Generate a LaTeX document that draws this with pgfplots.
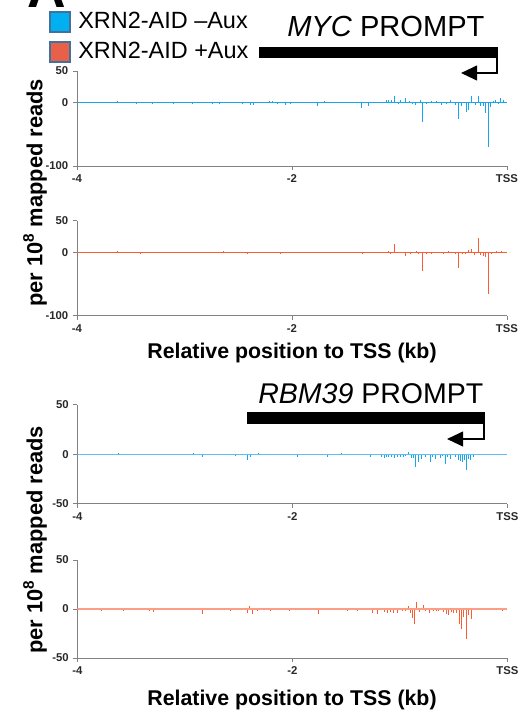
\documentclass[border=0pt]{standalone}
\usepackage{pgfplots}
\pgfplotsset{compat=1.18}
\usepackage{fontspec}
\setmainfont{Liberation Sans}
\usetikzlibrary{arrows.meta}

\definecolor{lb}{RGB}{25,165,235}
\definecolor{rd}{RGB}{250,92,52}
\definecolor{legblue}{RGB}{0,176,240}
\definecolor{legred}{RGB}{232,96,72}
\definecolor{legborder}{RGB}{65,113,156}
\definecolor{axgray}{RGB}{130,130,130}
\definecolor{ticktext}{RGB}{40,40,40}

\pgfplotsset{
  trace/.style={
    scale only axis, width=322.5pt,
    xmin=-4, xmax=0,
    axis lines=left,
    axis line style={draw=axgray, line width=0.75pt, -},
    tick align=outside,
    major tick length=3pt,
    tick style={draw=axgray, line width=0.75pt},
    xtick={-4,-2,0}, xticklabels={-4,-2,TSS},
    /pgf/number format/assume math mode=true,
    tick label style={font=\bfseries\fontsize{8.5}{10}\selectfont, text=ticktext},
    clip=true,
  },
  spk/.style={ycomb, line width=0.6pt, no markers},
}

\pgfplotstableread{
x y
-3.628 2
-3.451 -1
-3.302 -2
-3.107 -1
-2.930 -1
-2.744 -1
-2.679 -2
-2.465 -2
-2.391 -4
-2.363 -3
-2.214 2
-2.186 3
-2.140 -2
-2.065 -4
-2.019 -2
-1.767 -5
-1.702 3
-1.358 -8.5
-1.293 -6
-1.126 4
-1.107 4
-1.079 5
-1.051 10
-1.014 -2
-0.995 4
-0.949 7
-0.912 2
-0.884 -2
-0.856 -3
-0.809 5
-0.791 -30
-0.753 -2
-0.707 3
-0.660 2
-0.614 -3
-0.567 -2
-0.530 4
-0.484 -3
-0.456 -26
-0.428 -5
-0.381 -14
-0.363 -11
-0.335 10
-0.298 -4
-0.270 11
-0.251 -5
-0.223 -6
-0.205 -16
-0.177 -70
-0.158 -7
-0.130 3
-0.112 4
-0.084 -2
-0.065 8
-0.037 4
}\mycminus

\pgfplotstableread{
x y
-3.628 2
-3.414 -2
-3.293 -1
-3.116 -1
-2.763 -1
-2.642 2
-2.419 -2
-2.112 -2
-1.907 1
-1.628 1
-1.488 -1
-1.349 -2
-1.107 3
-1.088 -2
-1.051 14
-0.986 1
-0.949 -5
-0.902 -2
-0.847 3
-0.828 -3
-0.791 -29
-0.753 -2
-0.707 -2
-0.642 -1
-0.595 -2
-0.549 2
-0.484 -3
-0.456 -24
-0.419 -3
-0.391 -2
-0.363 4
-0.335 5
-0.307 -4
-0.270 23
-0.251 -4
-0.223 -5
-0.205 -8
-0.177 -65
-0.149 -3
-0.102 2
-0.056 3
-0.019 1
}\mycplus

\pgfplotstableread{
x y
-3.619 1
-3.302 -1
-2.921 1
-2.837 -3
-2.735 -1
-2.530 -2
-2.419 -6
-2.391 -3
-2.316 1
-2.205 -1
-2.065 -1
-1.953 -3
-1.674 -3
-1.544 1
-1.526 -1
-1.442 -1
-1.367 -1
-1.274 -3
-1.172 -3
-1.144 -4
-1.126 -3
-1.107 -3
-1.079 -3
-1.051 -4
-1.023 -3
-0.995 -3
-0.967 -3
-0.949 -2
-0.921 2
-0.893 -4
-0.874 -4
-0.856 -13
-0.828 -8
-0.800 -5
-0.763 -3
-0.716 -8
-0.698 -3
-0.670 -5
-0.623 -4
-0.605 -2
-0.577 -10
-0.558 -3
-0.530 -5
-0.484 -3
-0.456 -6
-0.437 -7
-0.419 -8
-0.400 -6
-0.381 -16
-0.363 -5
-0.344 -6
-0.316 -3
}\rbmminus

\pgfplotstableread{
x y
-3.777 -2
-3.572 -2
-3.330 -2
-3.293 -3
-2.837 -5
-2.577 -2
-2.419 -4
-2.400 3
-2.372 -5
-2.326 -2
-2.205 -2
-2.028 -2
-1.758 -5
-1.488 -2
-1.395 -2
-1.256 -4
-1.209 -5
-1.144 -3
-1.116 -4
-1.088 -3
-1.060 -4
-1.023 -4
-0.977 -2
-0.949 -2
-0.921 3
-0.902 -4
-0.884 -9
-0.865 -15
-0.847 7
-0.819 -3
-0.781 4
-0.763 -2
-0.726 -4
-0.688 -2
-0.660 -2
-0.642 -2
-0.595 -3
-0.567 -5
-0.549 -6
-0.521 -3
-0.502 -4
-0.474 -4
-0.447 -15
-0.428 -20
-0.409 -8
-0.381 -31
-0.363 -6
-0.335 -10
-0.047 -2
}\rbmplus

\begin{document}
\begin{tikzpicture}

% Panel 1: MYC -Aux
\begin{axis}[trace, at={(57.75pt,-124.5pt)}, anchor=south west,
  height=71.25pt, ymin=-100, ymax=50,
  ytick={-100,0,50}, yticklabels={-100,0,50}]
  \addplot[spk, lb] table {\mycminus};
  \addplot[lb, line width=0.9pt] coordinates {(-4,0) (0,0)};
\end{axis}

% Panel 2: MYC +Aux
\begin{axis}[trace, at={(57.75pt,-236.8pt)}, anchor=south west,
  height=71.25pt, ymin=-100, ymax=50,
  ytick={-100,0,50}, yticklabels={-100,0,50}]
  \addplot[spk, rd] table {\mycplus};
  \addplot[rd, line width=0.9pt] coordinates {(-4,0) (0,0)};
\end{axis}

% Panel 3: RBM39 -Aux
\begin{axis}[trace, at={(58.1pt,-377.8pt)}, anchor=south west,
  height=74.25pt, ymin=-50, ymax=50,
  ytick={-50,0,50}, yticklabels={-50,0,50}]
  \addplot[spk, lb] table {\rbmminus};
  \addplot[lb!70, line width=0.9pt] coordinates {(-4,0) (0,0)};
\end{axis}

% Panel 4: RBM39 +Aux
\begin{axis}[trace, at={(58.1pt,-493.5pt)}, anchor=south west,
  height=73.5pt, ymin=-50, ymax=50,
  ytick={-50,0,50}, yticklabels={-50,0,50}]
  \addplot[spk, rd] table {\rbmplus};
  \addplot[rd!60, line width=1pt] coordinates {(-4,0) (0,0)};
\end{axis}

\begin{scope}[x=0.75pt, y=-0.75pt]
  % panel letter (cut at top, as in the reference)
  \node[anchor=base west, font=\bfseries\fontsize{40}{40}\selectfont, inner sep=0pt] at (27,7) {A};
  % legend
  \draw[draw=legborder, line width=1.1pt, fill=legblue] (50,12) rectangle (70,32);
  \draw[draw=legborder, line width=1.1pt, fill=legred] (50,42) rectangle (70,62);
  \node[anchor=base west, font=\fontsize{17.6}{20}\selectfont, inner sep=0pt] at (78,28) {XRN2-AID –Aux};
  \node[anchor=base west, font=\fontsize{17.6}{20}\selectfont, inner sep=0pt] at (78,58) {XRN2-AID +Aux};
  % MYC PROMPT
  \node[anchor=base west, font=\fontsize{21.8}{26}\selectfont, inner sep=0pt] at (287,36) {\textit{MYC} PROMPT};
  \fill[black] (259,47) rectangle (498,58);
  \draw[line width=1.5pt, -{Triangle[length=12pt,width=11pt]}] (496.5,57) -- (496.5,73) -- (461,73);
  % RBM39 PROMPT
  \node[anchor=base west, font=\fontsize{21.4}{26}\selectfont, inner sep=0pt] at (258,403) {\textit{RBM39} PROMPT};
  \fill[black] (247,412) rectangle (485,424);
  \draw[line width=1.5pt, -{Triangle[length=12pt,width=11pt]}] (483.5,423) -- (483.5,439) -- (447,439);
  % y labels
  \node[rotate=90, font=\bfseries\fontsize{16.4}{19}\selectfont] at (35,193) {per 10\textsuperscript{8} mapped reads};
  \node[rotate=90, font=\bfseries\fontsize{16.4}{19}\selectfont] at (35,540) {per 10\textsuperscript{8} mapped reads};
  % x labels
  \node[anchor=base, font=\bfseries\fontsize{16}{19}\selectfont, inner sep=0pt] at (292,358.5) {Relative position to TSS (kb)};
  \node[anchor=base, font=\bfseries\fontsize{16}{19}\selectfont, inner sep=0pt] at (292,705.5) {Relative position to TSS (kb)};
  \pgfresetboundingbox
  \path[use as bounding box] (0,0) rectangle (526,714);
\end{scope}
\end{tikzpicture}
\end{document}
